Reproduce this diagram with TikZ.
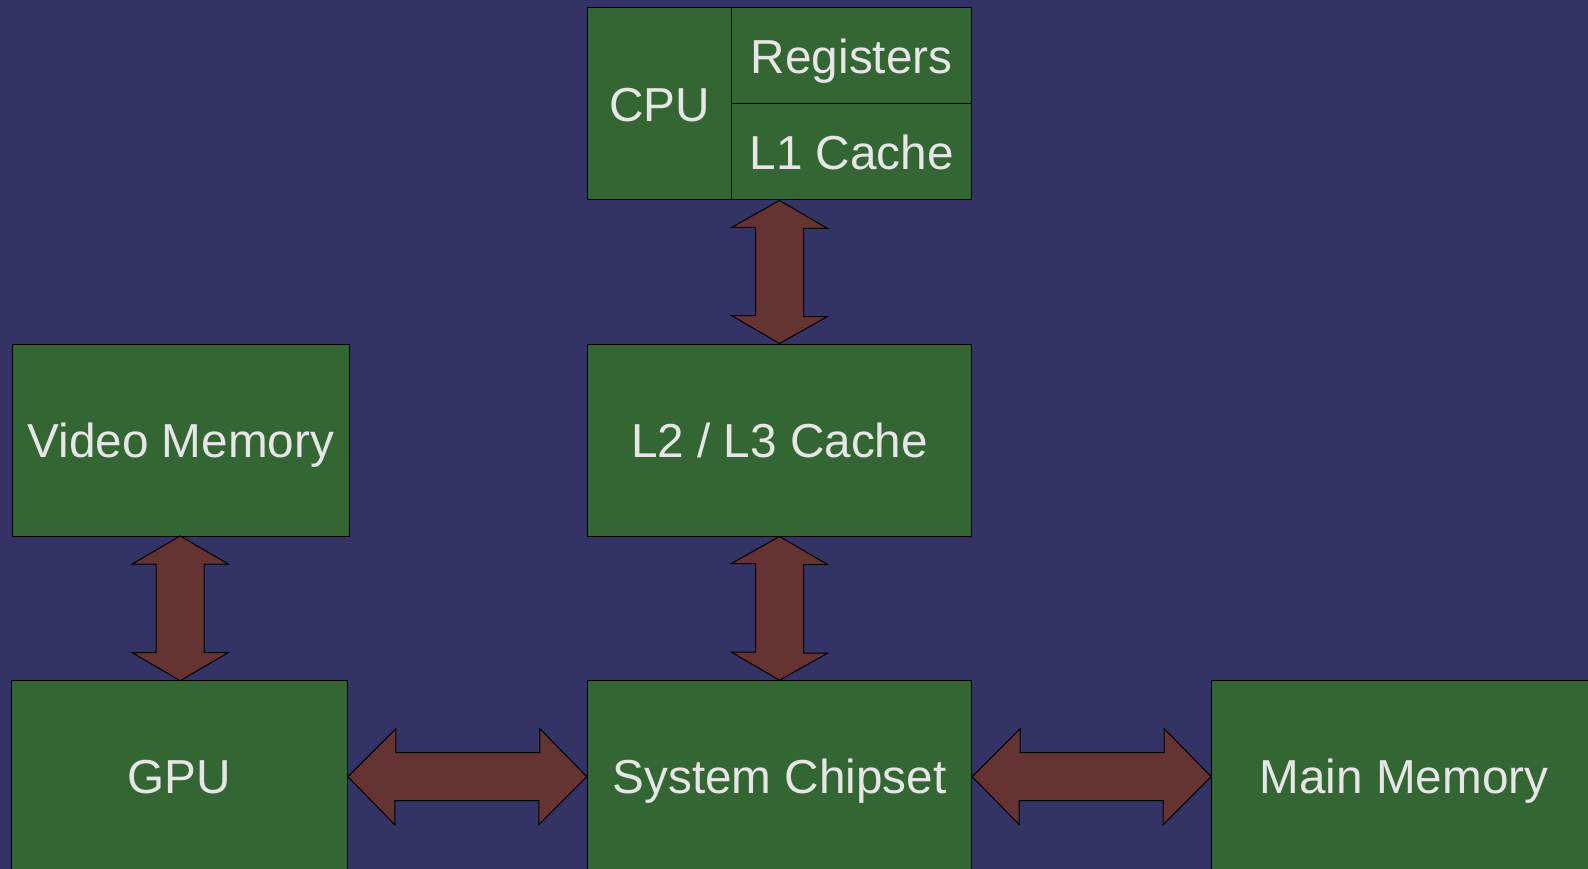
\documentclass[tikz,border=0pt]{standalone}
\usepackage{fontspec}
\setmainfont{Liberation Sans}
\definecolor{bgc}{HTML}{333366}
\definecolor{boxgreen}{HTML}{336633}
\definecolor{arrowc}{HTML}{663333}
\definecolor{txt}{HTML}{E6E6E6}
\begin{document}
\begin{tikzpicture}[x=1pt,y=-1pt,
  box/.style={draw=black, line width=1pt, fill=boxgreen, text=txt,
    font=\fontsize{47.7}{57}\selectfont, text height=34.2pt, text depth=0pt,
    inner sep=0pt, minimum height=192pt},
  blockarrow/.style={draw=black, line width=1pt, fill=arrowc, line join=miter}]
\useasboundingbox (0,0) rectangle (1588,869);
\fill[bgc] (0,0) rectangle (1588,869);
\clip (0,0) rectangle (1588,869);
% boxes
\node[box, minimum width=144.4pt] (cpu) at (659.5,104) {CPU};
\node[box, minimum width=240pt, minimum height=96pt] (reg) at (851.7,56) {Registers};
\node[box, minimum width=240pt, minimum height=96pt] (l1) at (851.7,152) {L1 Cache};
\node[box, minimum width=384.4pt] (l2) at (779.5,440) {L2 / L3 Cache};
\node[box, minimum width=336.6pt] (vm) at (181,440) {Video Memory};
\node[box, minimum width=336.3pt] (gpu) at (179.2,776.7) {GPU};
\node[box, minimum width=384.4pt] (chip) at (779.5,776.7) {System Chipset};
\node[box, minimum width=384.4pt] (mm) at (1403.9,776.7) {Main Memory};
% vertical arrows
\coordinate (a1) at (l2.north |- cpu.south);
\draw[blockarrow] (a1) -- ++(48,28) -- ++(-24,0) -- ++(0,88) -- ++(24,0) -- (l2.north)
  -- ++(-48,-28) -- ++(24,0) -- ++(0,-88) -- ++(-24,0) -- cycle;
\draw[blockarrow] (l2.south) -- ++(48,28) -- ++(-24,0) -- ++(0,88.7) -- ++(24,0) -- (chip.north)
  -- ++(-48,-28) -- ++(24,0) -- ++(0,-88.7) -- ++(-24,0) -- cycle;
\coordinate (a3) at (180.2,536);
\coordinate (a3b) at (180.2,680.7);
\draw[blockarrow] (a3) -- ++(48,28) -- ++(-24,0) -- ++(0,88.7) -- ++(24,0) -- (a3b)
  -- ++(-48,-28) -- ++(24,0) -- ++(0,-88.7) -- ++(-24,0) -- cycle;
% horizontal arrows
\draw[blockarrow] (gpu.east) -- ++(48,-48) -- ++(0,24) -- ++(144,0) -- ++(0,-24) -- (chip.west)
  -- ++(-48,48) -- ++(0,-24) -- ++(-144,0) -- ++(0,24) -- cycle;
\draw[blockarrow] (chip.east) -- ++(48,-48) -- ++(0,24) -- ++(144,0) -- ++(0,-24) -- (mm.west)
  -- ++(-48,48) -- ++(0,-24) -- ++(-144,0) -- ++(0,24) -- cycle;
\end{tikzpicture}
\end{document}
